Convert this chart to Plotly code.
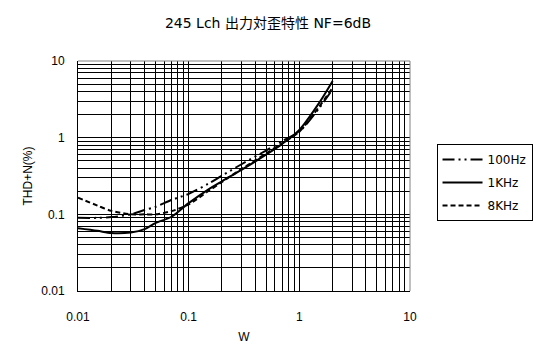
import plotly.graph_objects as go

W = [0.01, 0.015, 0.02, 0.03, 0.04, 0.05, 0.07, 0.1, 0.15, 0.2, 0.3, 0.5, 0.7, 1.0, 1.5, 2.0]
thd_100hz = [0.090, 0.090, 0.092, 0.100, 0.114, 0.125, 0.154, 0.185, 0.25, 0.32, 0.45, 0.68, 0.90, 1.20, 2.40, 4.3]
thd_1khz = [0.066, 0.061, 0.057, 0.058, 0.064, 0.077, 0.093, 0.140, 0.21, 0.27, 0.38, 0.60, 0.83, 1.26, 2.80, 5.5]
thd_8khz = [0.165, 0.130, 0.111, 0.100, 0.100, 0.100, 0.110, 0.135, 0.20, 0.265, 0.39, 0.62, 0.85, 1.20, 2.50, 4.5]

series_names = ["100Hz", "1KHz", "8KHz"]
title_text = "245 Lch 出力対歪特性 NF=6dB"
x_title = "W"
y_title = "THD+N(%)"

x_decades = [0.01, 0.1, 1, 10]
y_decades = [0.01, 0.1, 1, 10]


def log_ticks(decades):
    vals, texts = [], []
    for d in decades[:-1]:
        for m in range(1, 10):
            v = round(d * m, 6)
            vals.append(v)
            texts.append(f"{d:g}" if m == 1 else "")
    vals.append(decades[-1])
    texts.append(f"{decades[-1]:g}")
    return vals, texts


xv, xt = log_ticks(x_decades)
yv, yt = log_ticks(y_decades)

font = "Arial"

fig = go.Figure()
styles = [
    dict(color="black", width=2, dash="12px,4px,2px,4px,2px,4px"),
    dict(color="black", width=2, dash="solid"),
    dict(color="black", width=2, dash="5px,3px"),
]
for i, (name, ys, st) in enumerate(zip(series_names, [thd_100hz, thd_1khz, thd_8khz], styles)):
    fig.add_trace(go.Scatter(x=W, y=ys, mode="lines", name=name, legendgroup=f"g{i}",
                             line=dict(shape="spline", smoothing=0.8, **st)))

axis_common = dict(
    type="log", showgrid=True, gridcolor="black", gridwidth=1,
    showline=True, linecolor="black", linewidth=1, zeroline=False,
    tickcolor="rgba(0,0,0,0)", ticks="outside",
    tickfont=dict(family=font, size=12, color="black"),
    title_font=dict(family=font, size=12, color="black"),
    tickmode="array",
)
fig.update_xaxes(range=[-2, 1], tickvals=xv, ticktext=xt, ticklen=15,
                 title=dict(text=x_title, standoff=9), **axis_common)
fig.update_yaxes(range=[-2, 1], tickvals=yv, ticktext=yt, ticklen=10,
                 title=dict(text=y_title, standoff=6), **axis_common)

# gray border on top and right edges of the plot area
fig.add_shape(type="line", xref="paper", yref="paper", x0=0, x1=1, y0=1, y1=1,
              line=dict(color="#808080", width=1), layer="above")
fig.add_shape(type="line", xref="paper", yref="paper", x0=1, x1=1, y0=0, y1=1,
              line=dict(color="#808080", width=1), layer="above")

fig.update_layout(
    width=544, height=358,
    margin=dict(l=78, r=128, t=61, b=67),
    paper_bgcolor="white", plot_bgcolor="white",
    title=dict(text=title_text, x=268 / 544, xref="container", xanchor="center",
               y=1 - 23 / 358, yref="container", yanchor="middle",
               font=dict(family="DejaVu Sans, Noto Sans CJK JP", size=14, color="black")),
    legend=dict(x=(443 - 78) / 338, y=(291 - 144) / 230, xanchor="left", yanchor="top",
                bordercolor="black", borderwidth=1, bgcolor="white",
                font=dict(family="DejaVu Sans", size=12, color="black"),
                itemwidth=40, tracegroupgap=4),
    showlegend=True,
)

fig.write_html("out.html", config={"displayModeBar": False},
               post_script="document.body.style.margin='0';document.body.style.padding='0';")
